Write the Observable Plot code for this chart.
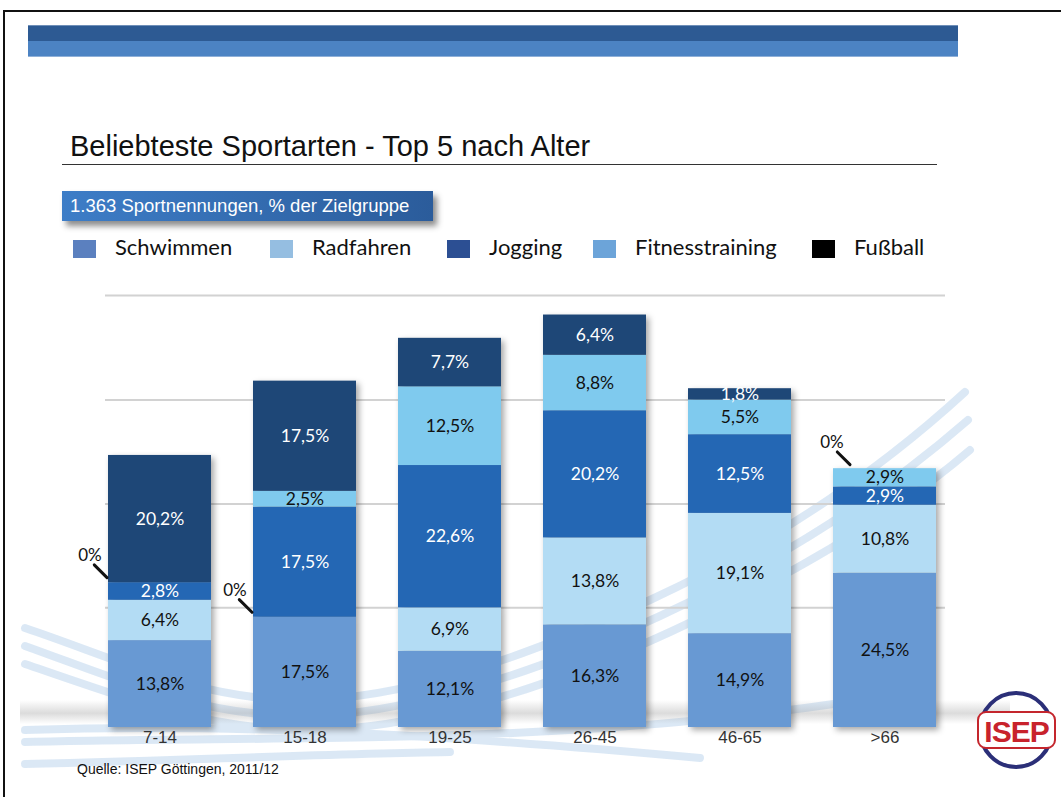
<!DOCTYPE html>
<html>
<head>
<meta charset="utf-8">
<script src="https://cdn.jsdelivr.net/npm/d3@7"></script>
<script src="https://cdn.jsdelivr.net/npm/@observablehq/plot@0.6"></script>
<style>
  html, body { margin: 0; padding: 0; background: #fff; }
  #page { position: relative; width: 1061px; height: 797px; overflow: hidden; background: #fff; }
  .abs { position: absolute; }
  #frame { left: 3px; top: 10px; width: 1100px; height: 800px; border-top: 2px solid #111; border-left: 2px solid #111; box-sizing: border-box; }
  #band1 { left: 28px; top: 25px; width: 930px; height: 16px; background: #2d5a93; border-top: 1px solid #6f8fb8; box-sizing: border-box; }
  #band2 { left: 28px; top: 41px; width: 930px; height: 16px; background: #4c83c3; border-bottom: 1px solid #8fb0d8; box-sizing: border-box; }
  #title { left: 70px; top: 132px; font: 29px/29px "Liberation Sans", Arial, sans-serif; color: #111; white-space: nowrap; z-index: 2; }
  #rule { left: 62px; top: 164px; width: 875px; height: 1px; background: #333; }
  #sub { left: 62px; top: 191px; width: 371px; height: 30px; background: linear-gradient(to right, #3d7dc7, #2b5c9b); box-shadow: 4px 5px 6px rgba(0,0,0,0.45); color: #fff; font: 18.5px/30px "Liberation Sans", Arial, sans-serif; padding-left: 8px; box-sizing: border-box; white-space: nowrap; z-index: 2; }
  .sw { position: absolute; top: 240px; width: 23px; height: 18px; z-index: 2; }
  .lt { position: absolute; top: 235.5px; font: 22px/22px "Lato", sans-serif; color: #111; white-space: nowrap; z-index: 2; }
  #src { left: 77px; top: 762px; font: 14px/14px "Liberation Sans", Arial, sans-serif; color: #111; white-space: nowrap; z-index: 2; }
  #deco { position: absolute; left: 0; top: 0; z-index: 0; }
  #chart { position: absolute; left: 0; top: 0; z-index: 1; }
  #logo { position: absolute; left: 0; top: 0; z-index: 3; pointer-events: none; }
</style>
</head>
<body>
<div id="page">
  <div id="frame" class="abs"></div>
  <div id="band1" class="abs"></div>
  <div id="band2" class="abs"></div>
  <div id="title" class="abs">Beliebteste Sportarten - Top 5 nach Alter</div>
  <div id="rule" class="abs"></div>
  <div id="sub" class="abs">1.363 Sportnennungen, % der Zielgruppe</div>
  <div id="legend"></div>
  <div id="src" class="abs">Quelle: ISEP Göttingen, 2011/12</div>
  <svg id="deco" width="1061" height="797" xmlns="http://www.w3.org/2000/svg">
    <defs>
      <linearGradient id="floor" x1="0" y1="0" x2="0" y2="1">
        <stop offset="0" stop-color="#999" stop-opacity="0"/>
        <stop offset="0.55" stop-color="#999" stop-opacity="0.35"/>
        <stop offset="1" stop-color="#999" stop-opacity="0"/>
      </linearGradient>
    </defs>
    <g fill="none" stroke="#d3e3f3" stroke-width="8" stroke-linecap="round" opacity="0.8">
      <path d="M 25 628 C 120 660, 200 700, 300 700 S 520 660, 650 600 S 880 470, 965 392"/>
      <path d="M 25 646 C 120 680, 200 716, 300 716 S 530 676, 660 616 S 890 488, 968 420"/>
      <path d="M 25 664 C 130 700, 210 730, 310 730 S 540 692, 670 632 S 900 510, 970 450"/>
      <path d="M 25 730 C 250 722, 480 738, 700 758"/>
      <path d="M 25 742 C 300 735, 600 748, 920 690"/>
      <path d="M 25 764 C 200 760, 320 754, 450 752"/>
    </g>
    <rect x="20" y="700" width="990" height="24" fill="url(#floor)"/>
  </svg>
  <svg id="logo" width="1061" height="797" xmlns="http://www.w3.org/2000/svg">
    <ellipse cx="1016" cy="730" rx="36" ry="37" fill="none" stroke="#2b2f78" stroke-width="4"/>
    <rect x="978" y="712" width="77" height="36" rx="8" fill="#fff" stroke="#c4262d" stroke-width="2"/>
    <text x="1016.5" y="742" text-anchor="middle" font-family="Liberation Sans, Arial, sans-serif" font-weight="bold" font-size="30" fill="#c8232c" letter-spacing="-1">ISEP</text>
  </svg>
</div>
<script>
// ---- data ----
const ageGroups = ["7-14", "15-18", "19-25", "26-45", "46-65", ">66"];
const sports = ["Schwimmen", "Radfahren", "Jogging", "Fitnesstraining", "Fußball"];
const schwimmen = [13.8, 17.5, 12.1, 16.3, 14.9, 24.5];
const radfahren = [6.4, 0, 6.9, 13.8, 19.1, 10.8];
const jogging = [2.8, 17.5, 22.6, 20.2, 12.5, 2.9];
const fitnesstraining = [0, 2.5, 12.5, 8.8, 5.5, 2.9];
const fussball = [20.2, 17.5, 7.7, 6.4, 1.8, 0];
const gridValues = [19, 35.5, 52, 68.6];
const yMax = 68.6;

// ---- styles ----
const barColors = ["#6899d3", "#b3dcf4", "#2467b4", "#7fcaee", "#1e4777"];
const legendColors = ["#5b80bf", "#95bee1", "#2c4f93", "#6ca4d9", "#000000"];
const legendSwatchX = [73, 270, 447, 593, 812];
const legendTextX = [115, 312, 489, 635, 854];
const darkLabelSports = ["Jogging", "Fußball"];

// legend (HTML)
const legend = document.getElementById("legend");
sports.forEach((s, i) => {
  const sw = document.createElement("div");
  sw.className = "sw";
  sw.style.left = legendSwatchX[i] + "px";
  sw.style.background = legendColors[i];
  legend.appendChild(sw);
  const t = document.createElement("div");
  t.className = "lt";
  t.style.left = legendTextX[i] + "px";
  t.textContent = s;
  legend.appendChild(t);
});

// table (with stacked positions for labels)
const series = [schwimmen, radfahren, jogging, fitnesstraining, fussball];
const rows = [];
const zeros = [];
ageGroups.forEach((a, j) => {
  let base = 0;
  sports.forEach((s, i) => {
    const v = series[i][j];
    const above = series.slice(i + 1).reduce((acc, arr) => acc + arr[j], 0);
    rows.push({sport: s, age: a, value: v, mid: base + v / 2});
    if (v === 0) zeros.push({age: a, sport: s, y: base, top: above === 0});
    base += v;
  });
});
// keep sport-major order for stacking
rows.sort((p, q) => sports.indexOf(p.sport) - sports.indexOf(q.sport) || ageGroups.indexOf(p.age) - ageGroups.indexOf(q.age));

const fmt = v => v.toFixed(1).replace(".", ",") + "%";
const zeroSide = zeros.filter(d => !d.top);
const zeroTop = zeros.filter(d => d.top);

const leader = {draw(context, l) { context.moveTo(0, 0); context.lineTo(0, -l); }};
const labelFont = "Lato, sans-serif";

const chart = Plot.plot({
  width: 1061,
  height: 797,
  marginTop: 295,
  marginBottom: 70,
  marginLeft: 85,
  marginRight: 102,
  style: {background: "transparent", overflow: "visible"},
  x: {domain: ageGroups, paddingInner: 0.293, paddingOuter: 0.15, label: null, axis: null},
  y: {domain: [0, yMax], axis: null},
  color: {domain: sports, range: barColors},
  marks: [
    Plot.ruleY(gridValues, {stroke: "#d2d2d2", strokeWidth: 2, insetLeft: 20, insetRight: 14}),
    Plot.barY(rows, {x: "age", y: "value", fill: "sport", z: "sport"}),
    Plot.text(rows.filter(d => d.value > 0 && darkLabelSports.includes(d.sport)),
      {x: "age", y: "mid", text: d => fmt(d.value), fill: "#fff", fontSize: 17.5, fontFamily: labelFont}),
    Plot.text(rows.filter(d => d.value > 0 && !darkLabelSports.includes(d.sport)),
      {x: "age", y: "mid", text: d => fmt(d.value), fill: "#111", fontSize: 17.5, fontFamily: labelFont}),
    Plot.text(zeroSide, {x: "age", y: "y", text: () => "0%", dx: -70, dy: -27, fill: "#111", fontSize: 17, fontFamily: labelFont}),
    Plot.text(zeroTop, {x: "age", y: "y", text: () => "0%", dx: -53, dy: -26, fill: "#111", fontSize: 17, fontFamily: labelFont}),
    Plot.vector(zeroSide, {x: "age", y: "y", rotate: -45, length: 18, anchor: "start", dx: -53, dy: -5, stroke: "#111", strokeWidth: 3, strokeLinecap: "round", shape: leader}),
    Plot.vector(zeroTop, {x: "age", y: "y", rotate: -45, length: 18, anchor: "start", dx: -35, dy: -4, stroke: "#111", strokeWidth: 3, strokeLinecap: "round", shape: leader}),
    Plot.axisX({tickSize: 0, tickPadding: 3, fontSize: 17, fontFamily: "Liberation Sans, Arial, sans-serif", fill: "#333", label: null})
  ]
});
chart.id = "chart";
const barG = chart.querySelector('g[aria-label="bar"]');
if (barG) barG.style.filter = "drop-shadow(3px 3px 3px rgba(0,0,0,0.35))";
document.getElementById("page").appendChild(chart);
</script>
</body>
</html>
